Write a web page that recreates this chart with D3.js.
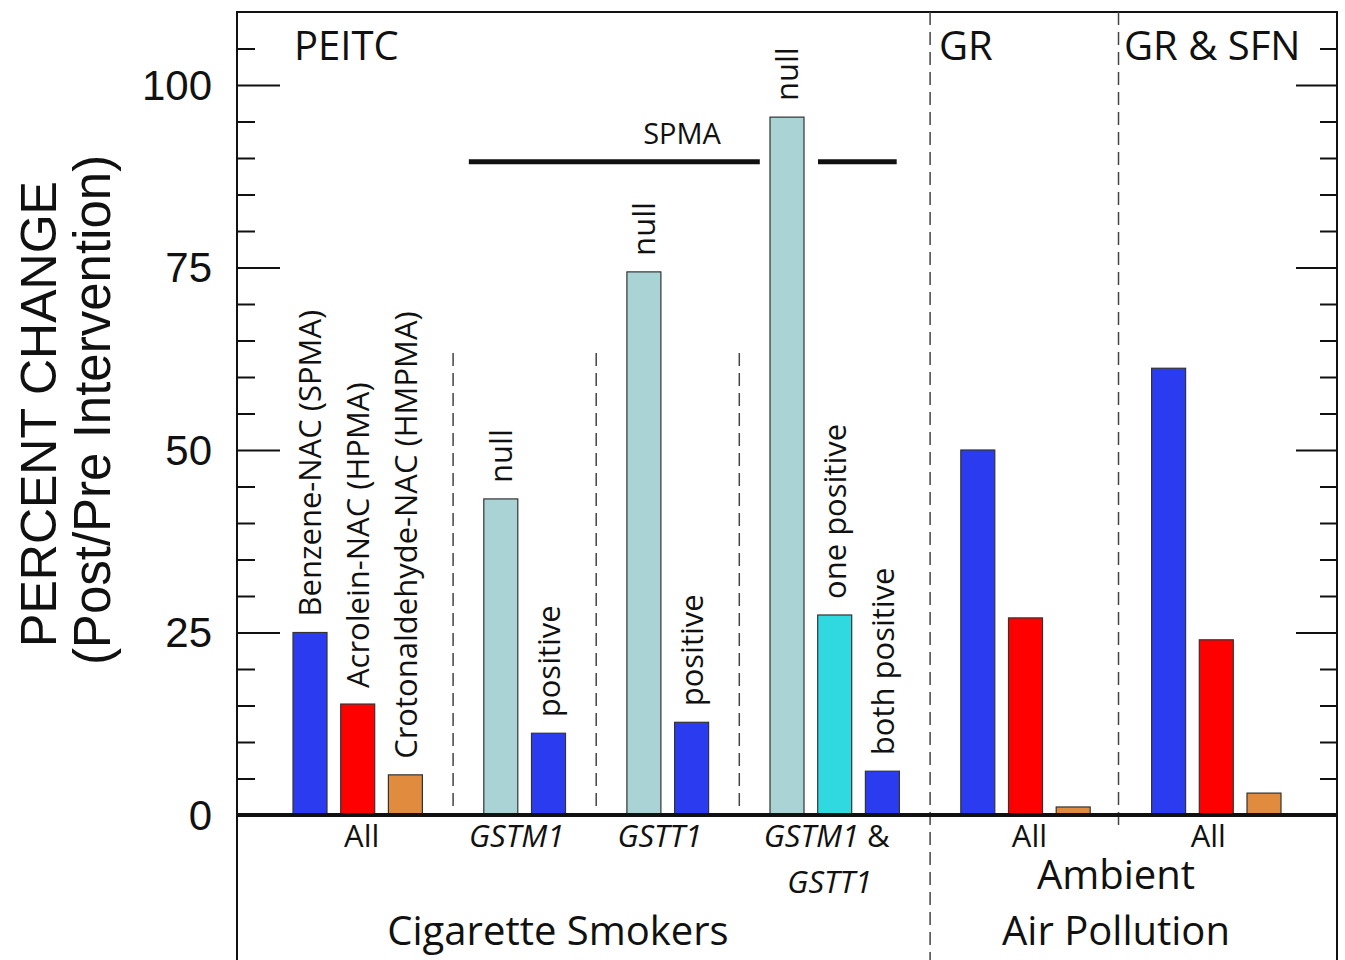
<!DOCTYPE html>
<html>
<head>
<meta charset="utf-8">
<script src="https://cdn.jsdelivr.net/npm/d3@7/dist/d3.min.js"></script>
<style>
  html, body { margin: 0; padding: 0; background: #fff; }
  svg { display: block; }
  text { font-family: "Open Sans", sans-serif; fill: #111; }
  .arial { font-family: "Liberation Sans", Arial, sans-serif; }
</style>
</head>
<body>
<svg id="chart" width="1345" height="960"></svg>
<script>
// ---------------- DATA ----------------
const barSlots  = [0, 1, 2, 4, 5, 7, 8, 10, 11, 12, 14, 15, 16, 18, 19, 20];
const barValues = [25.0, 15.2, 5.5, 43.3, 11.2, 74.4, 12.7, 95.6, 27.4, 6.0, 50.0, 27.0, 1.1, 61.2, 24.0, 3.0];
const barTypes  = ["benzene", "acrolein", "croton", "null", "positive", "null", "positive",
                   "null", "onePositive", "positive", "benzene", "acrolein", "croton",
                   "benzene", "acrolein", "croton"];
const barLabels = ["Benzene-NAC (SPMA)", "Acrolein-NAC (HPMA)", "Crotonaldehyde-NAC (HMPMA)",
                   "null", "positive", "null", "positive", "null", "one positive", "both positive",
                   "", "", "", "", "", ""];
const groupLabels = ["All", "GSTM1", "GSTT1", "GSTM1 &", "All", "All"];
const groupSlots  = [[0, 1, 2], [4, 5], [7, 8], [10, 11, 12], [14, 15, 16], [18, 19, 20]];
const panelTitles = ["PEITC", "GR", "GR & SFN"];
const yTickValues = [0, 25, 50, 75, 100];
const spmaLevel = 89.5;

const typeColors = {
  benzene: "#2b3cf0", acrolein: "#ff0000", croton: "#e08b3d",
  null: "#a9d3d5", positive: "#2b3cf0", onePositive: "#30d9e0"
};

// ---------------- LAYOUT ----------------
const svg = d3.select("#chart");
const pLeft = 237, pRight = 1337, pTop = 12, zeroY = 815, pBottom = 960;

const y = d3.scaleLinear().domain([0, 110]).range([zeroY, pTop]);
const xs = d3.scaleLinear().domain([0, 20]).range([310, 1264]);
const bw = 34;
const groupNudge = [4, -8, -8, -8, 4, -8];

// frame of plot
svg.append("rect").attr("x", pLeft).attr("y", pTop).attr("width", pRight - pLeft).attr("height", zeroY - pTop)
  .attr("fill", "none").attr("stroke", "#111").attr("stroke-width", 2);
// bottom box sides
[pLeft, pRight].forEach(x => svg.append("line").attr("x1", x).attr("x2", x).attr("y1", zeroY).attr("y2", pBottom)
  .attr("stroke", "#111").attr("stroke-width", 2));

// left axis
const minorTicks = d3.range(0, 106, 5);
const leftAxis = d3.axisLeft(y).tickValues(minorTicks).tickSize(0).tickPadding(25)
  .tickFormat(d => yTickValues.includes(d) ? d : "");
const gl = svg.append("g").attr("transform", `translate(${pLeft},0)`).call(leftAxis);
gl.select(".domain").remove();
gl.selectAll(".tick text").attr("class", "arial").attr("font-size", 42).attr("fill", "#111")
  .attr("dy", "0.34em");
gl.selectAll(".tick").append("line").attr("x1", 0)
  .attr("x2", d => yTickValues.includes(d) ? 43 : 18).attr("stroke", "#111").attr("stroke-width", 2);

// right axis ticks
const gr = svg.append("g").attr("transform", `translate(${pRight},0)`)
  .call(d3.axisRight(y).tickValues(minorTicks).tickSize(0).tickFormat(""));
gr.select(".domain").remove();
gr.selectAll(".tick").append("line").attr("x1", 0)
  .attr("x2", d => yTickValues.includes(d) ? -41 : -17).attr("stroke", "#111").attr("stroke-width", 2);

// dashed separators
const dash = "13,7";
[3, 6, 9].forEach(s => svg.append("line").attr("x1", xs(s)).attr("x2", xs(s))
  .attr("y1", y(63.3)).attr("y2", zeroY).attr("stroke", "#444").attr("stroke-width", 1.5)
  .attr("stroke-dasharray", dash));
svg.append("line").attr("x1", xs(13)).attr("x2", xs(13)).attr("y1", pTop).attr("y2", pBottom)
  .attr("stroke", "#444").attr("stroke-width", 1.5).attr("stroke-dasharray", dash);
svg.append("line").attr("x1", xs(16.95)).attr("x2", xs(16.95)).attr("y1", pTop).attr("y2", zeroY + 10)
  .attr("stroke", "#444").attr("stroke-width", 1.5).attr("stroke-dasharray", dash);

// bars
const bars = barSlots.map((s, i) => ({ s, v: barValues[i], t: barTypes[i], label: barLabels[i] }));
svg.append("g").selectAll("rect").data(bars).join("rect")
  .attr("x", d => xs(d.s) - bw / 2).attr("width", bw)
  .attr("y", d => y(d.v)).attr("height", d => zeroY - y(d.v))
  .attr("fill", d => typeColors[d.t]).attr("stroke", "#333").attr("stroke-width", 1.2);

// bar labels (rotated)
svg.append("g").selectAll("text").data(bars.filter(d => d.label)).join("text")
  .attr("transform", d => `translate(${xs(d.s)},${y(d.v) - 16}) rotate(-90)`)
  .attr("dy", "0.36em").attr("font-size", 31).text(d => d.label);

// zero line
svg.append("line").attr("x1", pLeft).attr("x2", pRight).attr("y1", zeroY).attr("y2", zeroY)
  .attr("stroke", "#111").attr("stroke-width", 4);

// SPMA bracket
svg.append("line").attr("x1", xs(3.33)).attr("x2", xs(9.43)).attr("y1", y(spmaLevel)).attr("y2", y(spmaLevel))
  .attr("stroke", "#111").attr("stroke-width", 5);
svg.append("line").attr("x1", xs(10.65)).attr("x2", xs(12.3)).attr("y1", y(spmaLevel)).attr("y2", y(spmaLevel))
  .attr("stroke", "#111").attr("stroke-width", 5);
svg.append("text").attr("x", xs(7.8)).attr("y", y(spmaLevel) - 18).attr("text-anchor", "middle")
  .attr("font-size", 29).text("SPMA");

// panel titles
svg.append("text").attr("x", 294).attr("y", 60).attr("font-size", 40).text(panelTitles[0]);
svg.append("text").attr("x", 939).attr("y", 60).attr("font-size", 40).text(panelTitles[1]);
svg.append("text").attr("x", 1124).attr("y", 60).attr("font-size", 40).text(panelTitles[2]);

// group labels below axis
groupLabels.forEach((lab, i) => {
  const cx = xs(d3.mean(groupSlots[i])) + groupNudge[i];
  const t = svg.append("text").attr("x", cx).attr("y", 847).attr("text-anchor", "middle").attr("font-size", 31);
  if (lab === "All") { t.text(lab); }
  else if (lab.endsWith("&")) {
    t.append("tspan").attr("font-style", "italic").text(lab.replace(" &", ""));
    t.append("tspan").text(" &");
    svg.append("text").attr("x", cx + 3).attr("y", 893).attr("text-anchor", "middle")
      .attr("font-size", 31).attr("font-style", "italic").text("GSTT1");
  } else { t.attr("font-style", "italic").text(lab); }
});

// section labels
svg.append("text").attr("x", 558).attr("y", 945).attr("text-anchor", "middle").attr("font-size", 40)
  .text("Cigarette Smokers");
svg.append("text").attr("x", 1116).attr("y", 889).attr("text-anchor", "middle").attr("font-size", 40)
  .text("Ambient");
svg.append("text").attr("x", 1116).attr("y", 945).attr("text-anchor", "middle").attr("font-size", 40)
  .text("Air Pollution");

// y axis title
svg.append("text").attr("class", "arial").attr("transform", "translate(56,414) rotate(-90)")
  .attr("text-anchor", "middle").attr("font-size", 50).text("PERCENT CHANGE");
svg.append("text").attr("class", "arial").attr("transform", "translate(110,410) rotate(-90)")
  .attr("text-anchor", "middle").attr("font-size", 51).text("(Post/Pre Intervention)");
</script>
</body>
</html>
